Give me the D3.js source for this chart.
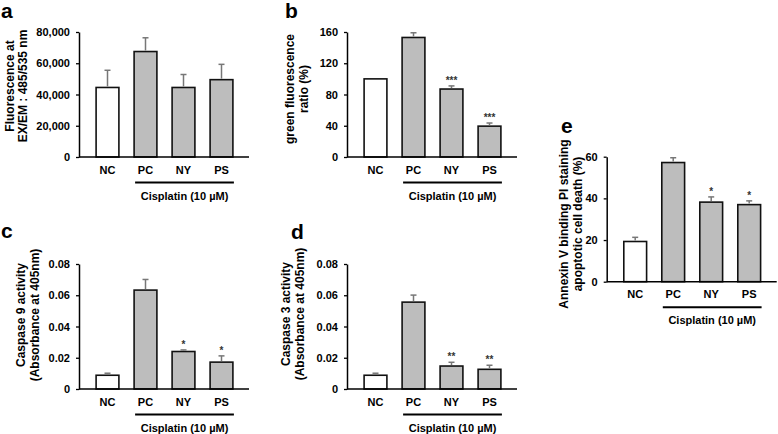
<!DOCTYPE html>
<html><head><meta charset="utf-8">
<script src="https://cdn.jsdelivr.net/npm/d3@7"></script>
<style>
html,body{margin:0;padding:0;background:#fff;}
text{font-family:"Liberation Sans",Arial,sans-serif;font-weight:bold;}
</style></head>
<body><svg id="chart" width="778" height="434"></svg>
<script>
// ---- data ----
const categories = ["NC","PC","NY","PS"];
const groupLabel = "Cisplatin (10 \u00b5M)";

const aValues = [44500, 67500, 44500, 49500];
const aErrors = [11000, 8800, 8300, 9800];
const aStars  = ["", "", "", ""];
const aTicks  = [0, 20000, 40000, 60000, 80000];
const aTitle  = ["Fluorescence at", "EX/EM : 485/535 nm"];

const bValues = [100, 153, 87, 39.5];
const bErrors = [0, 6, 4, 4];
const bStars  = ["", "", "***", "***"];
const bTicks  = [0, 40, 80, 120, 160];
const bTitle  = ["green fluorescence", "ratio (%)"];

const cValues = [0.0088, 0.0633, 0.0240, 0.0172];
const cErrors = [0.0013, 0.0068, 0.0010, 0.0040];
const cStars  = ["", "", "*", "*"];
const cTicks  = [0, 0.02, 0.04, 0.06, 0.08];
const cTitle  = ["Caspase 9 activity", "(Absorbance at 405nm)"];

const dValues = [0.0088, 0.0556, 0.0147, 0.0126];
const dErrors = [0.0013, 0.0045, 0.0024, 0.0026];
const dStars  = ["", "", "**", "**"];
const dTicks  = [0, 0.02, 0.04, 0.06, 0.08];
const dTitle  = ["Caspase 3 activity", "(Absorbance at 405nm)"];

const eValues = [19.3, 57.2, 38.2, 37.0];
const eErrors = [2.0, 2.3, 2.5, 1.8];
const eStars  = ["", "", "*", "*"];
const eTicks  = [0, 20, 40, 60];
const eTitle  = ["Annexin V binding PI staining", "apoptotic cell death (%)"];

// ---- layout ----
const panels = [
  {letter:"a", values:aValues, errors:aErrors, stars:aStars, ticks:aTicks, title:aTitle, fmt:d3.format(","),
   ax:79, yTop:32, yBot:157, lx:1, ly:18, t1:14, t2:27, tcy:86},
  {letter:"b", values:bValues, errors:bErrors, stars:bStars, ticks:bTicks, title:bTitle, fmt:d3.format("d"),
   ax:347, yTop:32, yBot:157, lx:285, ly:18, t1:294, t2:308, tcy:89},
  {letter:"c", values:cValues, errors:cErrors, stars:cStars, ticks:cTicks, title:cTitle, fmt:d=>d===0?"0":d3.format(".2f")(d),
   ax:79, yTop:264, yBot:389, lx:1, ly:238, t1:25, t2:39, tcy:315},
  {letter:"d", values:dValues, errors:dErrors, stars:dStars, ticks:dTicks, title:dTitle, fmt:d=>d===0?"0":d3.format(".2f")(d),
   ax:347, yTop:264, yBot:389, lx:291, ly:239, t1:289.5, t2:303.5, tcy:314},
  {letter:"e", values:eValues, errors:eErrors, stars:eStars, ticks:eTicks, title:eTitle, fmt:d3.format("d"),
   ax:606.7, yTop:156.7, yBot:281.7, lx:561, ly:133, t1:568, t2:582, tcy:224}
];

const svg = d3.select("#chart");

panels.forEach(p => {
  const g = svg.append("g");
  const y = d3.scaleLinear()
    .domain([0, d3.max(p.ticks)])
    .range([p.yBot, p.yTop]);
  const x = d3.scaleBand()
    .domain(categories)
    .range([p.ax + 9.5, p.ax + 9.5 + 152])
    .paddingInner(0.4).paddingOuter(0.2);

  // panel letter
  g.append("text").attr("x", p.lx).attr("y", p.ly)
    .attr("font-size", 21).attr("fill", "#000").text(p.letter);

  // y axis
  const yAxis = d3.axisLeft(y).tickValues(p.ticks).tickFormat(p.fmt)
    .tickSize(3).tickSizeOuter(0).tickPadding(6);
  const ya = g.append("g").attr("transform", `translate(${p.ax},0)`).call(yAxis);
  ya.select(".domain").attr("stroke", "#000").attr("stroke-width", 1.5);
  ya.selectAll(".tick line").attr("stroke", "#000").attr("stroke-width", 1.3);
  ya.selectAll(".tick text").attr("font-size", 11).attr("fill", "#000")
    .style("font-family", "'Liberation Sans',Arial,sans-serif").style("font-weight", "bold");

  // y title (two lines)
  p.title.forEach((t, i) => {
    g.append("text")
      .attr("transform", `translate(${i === 0 ? p.t1 : p.t2},${p.tcy}) rotate(-90)`)
      .attr("text-anchor", "middle").attr("font-size", 12).attr("fill", "#000").text(t);
  });

  // bars
  g.selectAll("rect.bar").data(categories).enter().append("rect")
    .attr("class", "bar")
    .attr("x", d => x(d))
    .attr("width", x.bandwidth())
    .attr("y", (d, i) => y(p.values[i]))
    .attr("height", (d, i) => y(0) - y(p.values[i]))
    .attr("fill", (d, i) => i === 0 ? "#ffffff" : "#bdbdbd")
    .attr("stroke", "#111").attr("stroke-width", 1.6);

  // error bars (upper only)
  categories.forEach((c, i) => {
    if (!p.errors[i]) return;
    const cx = x(c) + x.bandwidth() / 2;
    const top = y(p.values[i] + p.errors[i]);
    g.append("line").attr("x1", cx).attr("x2", cx)
      .attr("y1", y(p.values[i]) - 1).attr("y2", top)
      .attr("stroke", "#777").attr("stroke-width", 1.5);
    g.append("line").attr("x1", cx - 3).attr("x2", cx + 3)
      .attr("y1", top).attr("y2", top)
      .attr("stroke", "#777").attr("stroke-width", 1.5);
  });

  // significance stars
  categories.forEach((c, i) => {
    if (!p.stars[i]) return;
    const cx = x(c) + x.bandwidth() / 2;
    const top = y(p.values[i] + p.errors[i]);
    g.append("text").attr("x", cx).attr("y", top - 2)
      .attr("text-anchor", "middle").attr("font-size", 10)
      .attr("fill", "#333").text(p.stars[i]);
  });

  // x axis line
  g.append("line").attr("x1", p.ax).attr("x2", p.ax + 170)
    .attr("y1", p.yBot).attr("y2", p.yBot)
    .attr("stroke", "#000").attr("stroke-width", 1.5);

  // category labels
  g.selectAll("text.cat").data(categories).enter().append("text")
    .attr("class", "cat")
    .attr("x", d => x(d) + x.bandwidth() / 2)
    .attr("y", p.yBot + 16.5)
    .attr("text-anchor", "middle").attr("font-size", 11).attr("fill", "#000")
    .text(d => d);

  // group bracket line + label
  const gx1 = x("PC") + 1, gx2 = x("PS") + x.bandwidth() + 1;
  g.append("line").attr("x1", gx1).attr("x2", gx2)
    .attr("y1", p.yBot + 25.5).attr("y2", p.yBot + 25.5)
    .attr("stroke", "#000").attr("stroke-width", 2);
  g.append("text").attr("x", (gx1 + gx2) / 2).attr("y", p.yBot + 42.5)
    .attr("text-anchor", "middle").attr("font-size", 11).attr("fill", "#000")
    .text(groupLabel);
});
</script>
</body></html>
